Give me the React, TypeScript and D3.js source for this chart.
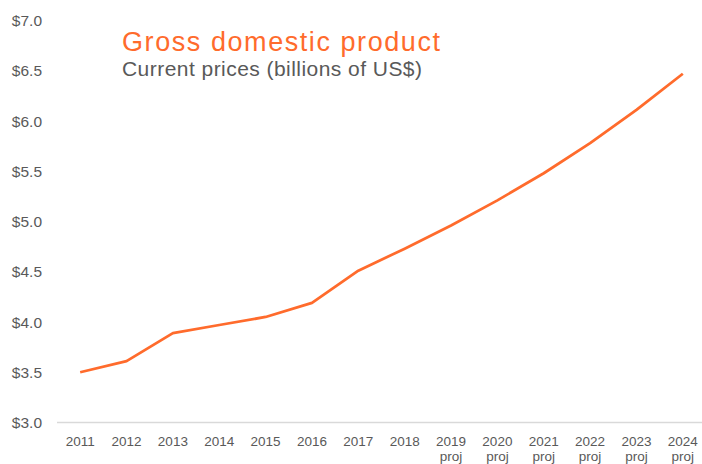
import React from "react";
import * as d3 from "d3";

const years = ["2011","2012","2013","2014","2015","2016","2017","2018","2019","2020","2021","2022","2023","2024"];
const projected = [false,false,false,false,false,false,false,false,true,true,true,true,true,true];
const gdp = [3.50,3.61,3.89,3.97,4.05,4.19,4.51,4.73,4.96,5.21,5.48,5.78,6.11,6.47];
const yTicks = [3.0,3.5,4.0,4.5,5.0,5.5,6.0,6.5,7.0];
const title = "Gross domestic product";
const subtitle = "Current prices (billions of US$)";

const W = 702, H = 464;
const ORANGE = "#FF6B2C";
const GRAY = "#595959";
const FONT = "'Liberation Sans', Arial, sans-serif";

export default function App() {
  const x = d3.scaleBand<string>().domain(years).range([57, 706]);
  const y = d3.scaleLinear().domain([3, 7]).range([422.5, 20.5]);
  const cx = (d: string) => (x(d) as number) + x.bandwidth() / 2;
  const line = d3.line<number>()
    .x((_, i) => cx(years[i]))
    .y((d) => y(d));

  return (
    <svg width={W} height={H} style={{ position: "absolute", left: 0, top: 0, background: "#fff" }} fontFamily={FONT}>
      <rect width={W} height={H} fill="#fff" />
      {yTicks.map((t) => (
        <text key={t} x={42} y={y(t)} dy="0.36em" textAnchor="end" fontSize={15.5} fill={GRAY}>
          {"$" + d3.format(".1f")(t)}
        </text>
      ))}
      <line x1={57} x2={702} y1={y(3)} y2={y(3)} stroke="#D9D9D9" strokeWidth={1.5} />
      {years.map((yr, i) => (
        <g key={yr}>
          <text x={cx(yr)} y={446} textAnchor="middle" fontSize={13.5} fill={GRAY}>{yr}</text>
          {projected[i] && (
            <text x={cx(yr)} y={461} textAnchor="middle" fontSize={13.5} fill={GRAY}>proj</text>
          )}
        </g>
      ))}
      <path d={line(gdp) || ""} fill="none" stroke={ORANGE} strokeWidth={2.75} strokeLinejoin="round" />
      <text x={122} y={51} fontSize={27} fill={ORANGE} textLength={318} lengthAdjust="spacing">{title}</text>
      <text x={122} y={76} fontSize={21} fill={GRAY} textLength={300} lengthAdjust="spacing">{subtitle}</text>
    </svg>
  );
}
